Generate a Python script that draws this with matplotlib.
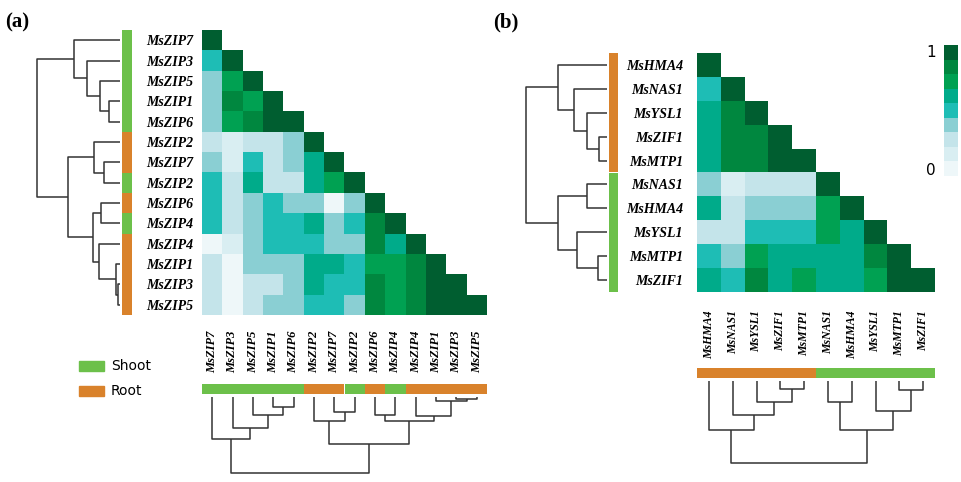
import numpy as np
import matplotlib.pyplot as plt
from matplotlib.colors import ListedColormap, BoundaryNorm

# ---- data -------------------------------------------------------------
zip_genes = ["MsZIP7", "MsZIP3", "MsZIP5", "MsZIP1", "MsZIP6", "MsZIP2", "MsZIP7",
             "MsZIP2", "MsZIP6", "MsZIP4", "MsZIP4", "MsZIP1", "MsZIP3", "MsZIP5"]
zip_tissue = ["Shoot", "Shoot", "Shoot", "Shoot", "Shoot", "Root", "Root",
              "Shoot", "Root", "Shoot", "Root", "Root", "Root", "Root"]
# lower triangle of the correlation matrix, row by row
zip_corr = [
    [.95],
    [.50, .95],
    [.39, .72, .95],
    [.39, .83, .72, .95],
    [.39, .72, .83, .95, .95],
    [.27, .16, .27, .27, .39, .95],
    [.39, .16, .50, .27, .39, .61, .95],
    [.50, .27, .61, .27, .27, .61, .72, .95],
    [.50, .27, .39, .50, .39, .39, .05, .39, .95],
    [.50, .27, .39, .50, .50, .61, .39, .50, .83, .95],
    [.05, .16, .39, .50, .50, .50, .39, .39, .83, .61, .95],
    [.27, .05, .39, .39, .39, .61, .61, .50, .72, .72, .83, .95],
    [.27, .05, .27, .27, .39, .61, .50, .50, .83, .72, .83, .95, .95],
    [.27, .05, .27, .39, .39, .50, .50, .39, .83, .72, .83, .95, .95, .95],
]
# hierarchical clustering merges: (cluster a, cluster b, height)
zip_merges = [
    (3, 4, 0.13), (2, 14, 0.24), (1, 15, 0.40), (0, 16, 0.55),
    (6, 7, 0.19), (5, 18, 0.31), (8, 9, 0.23), (12, 13, 0.02),
    (11, 21, 0.05), (10, 22, 0.25), (20, 23, 0.32), (19, 24, 0.62),
    (17, 25, 1.00),
]

met_genes = ["MsHMA4", "MsNAS1", "MsYSL1", "MsZIF1", "MsMTP1",
             "MsNAS1", "MsHMA4", "MsYSL1", "MsMTP1", "MsZIF1"]
met_tissue = ["Root", "Root", "Root", "Root", "Root",
              "Shoot", "Shoot", "Shoot", "Shoot", "Shoot"]
met_corr = [
    [.95],
    [.50, .95],
    [.61, .83, .95],
    [.61, .83, .83, .95],
    [.61, .83, .83, .95, .95],
    [.39, .16, .27, .27, .27, .95],
    [.61, .27, .39, .39, .39, .72, .95],
    [.27, .27, .50, .50, .50, .72, .61, .95],
    [.50, .39, .72, .61, .61, .61, .61, .83, .95],
    [.61, .50, .83, .61, .72, .61, .61, .72, .95, .95],
]
met_merges = [
    (3, 4, 0.10), (2, 10, 0.25), (1, 11, 0.41), (0, 12, 0.60),
    (5, 6, 0.25), (8, 9, 0.11), (7, 15, 0.37), (14, 16, 0.60),
    (13, 17, 1.00),
]

# ---- style ------------------------------------------------------------
W, H = 961, 482
tissue_colors = {"Shoot": "#6cc04a", "Root": "#d9822b"}
palette = ["#eef7f9", "#d9eef2", "#c4e4ea", "#8acfd3", "#1ebdb5",
           "#00ab8a", "#00a152", "#00873f", "#005e30"]
cmap = ListedColormap(palette)
norm = BoundaryNorm(np.linspace(0, 1, len(palette) + 1), cmap.N)
lab_font = dict(family="Liberation Serif", style="italic", weight="bold")
line_kw = dict(color="#333333", lw=1.1, solid_capstyle="butt")

fig = plt.figure(figsize=(W / 100, H / 100), dpi=100)


def px_axes(x0, y0, x1, y1):
    ax = fig.add_axes([x0 / W, 1 - y1 / H, (x1 - x0) / W, (y1 - y0) / H])
    ax.set_axis_off()
    return ax


def dendro_segments(merges, n):
    pos = {i: float(i) for i in range(n)}
    hgt = {i: 0.0 for i in range(n)}
    segs = []
    for k, (a, b, h) in enumerate(merges):
        segs.append(([pos[a], pos[a], pos[b], pos[b]], [hgt[a], h, h, hgt[b]]))
        pos[n + k] = (pos[a] + pos[b]) / 2
        hgt[n + k] = h
    return segs


def lower_matrix(rows):
    n = len(rows)
    m = np.full((n, n), np.nan)
    for i, r in enumerate(rows):
        m[i, :len(r)] = r
    return np.ma.masked_invalid(m)


def draw_panel(genes, tissue, corr, merges, hm, row_strip, row_den,
               col_strip, col_den, row_pad, col_pad, col_size):
    n = len(genes)
    colors = [tissue_colors[t] for t in tissue]

    ax = px_axes(*hm)
    ax.set_axis_on()
    ax.imshow(lower_matrix(corr), cmap=cmap, norm=norm, aspect="auto",
              interpolation="nearest")
    ax.set_xlim(-0.5, n - 0.5)
    ax.set_ylim(n - 0.5, -0.5)
    for s in ax.spines.values():
        s.set_visible(False)
    ax.set_xticks(range(n))
    ax.set_xticklabels(genes, rotation=90, fontsize=col_size, **lab_font)
    ax.set_yticks(range(n))
    ax.set_yticklabels(genes, fontsize=10, **lab_font)
    ax.tick_params(axis="x", length=0, pad=col_pad)
    ax.tick_params(axis="y", length=0, pad=row_pad)

    # tissue strips
    ax = px_axes(*row_strip)
    ax.barh(range(n), 1, height=1.0, color=colors, linewidth=0)
    ax.set_ylim(n - 0.5, -0.5)
    ax.set_xlim(0, 1)
    ax = px_axes(*col_strip)
    ax.bar(range(n), 1, width=1.0, color=colors, linewidth=0)
    ax.set_xlim(-0.5, n - 0.5)
    ax.set_ylim(0, 1)

    segs = dendro_segments(merges, n)
    ax = px_axes(*row_den)
    for p, h in segs:
        ax.plot(h, p, **line_kw)
    ax.set_xlim(1.02, 0)
    ax.set_ylim(n - 0.5, -0.5)
    ax = px_axes(*col_den)
    for p, h in segs:
        ax.plot(p, h, **line_kw)
    ax.set_xlim(-0.5, n - 0.5)
    ax.set_ylim(1.02, 0)


# (a) ZIP family
draw_panel(zip_genes, zip_tissue, zip_corr, zip_merges,
           hm=(202, 30, 487, 315), row_strip=(122, 30, 132, 315),
           row_den=(35, 30, 120, 315), col_strip=(202, 384, 487, 394),
           col_den=(202, 397, 487, 475), row_pad=6.5, col_pad=11.5, col_size=9)

# (b) metal transport genes
draw_panel(met_genes, met_tissue, met_corr, met_merges,
           hm=(697, 53, 935, 292), row_strip=(609, 53, 618, 292),
           row_den=(524, 53, 607, 292), col_strip=(697, 368, 935, 378),
           col_den=(697, 381, 935, 465), row_pad=10, col_pad=13, col_size=8.5)

fig.text(5 / W, 1 - 22 / H, "(a)", fontsize=15, weight="bold",
         family="Liberation Serif", va="center")
fig.text(493 / W, 1 - 22 / H, "(b)", fontsize=15, weight="bold",
         family="Liberation Serif", va="center")

# colour key
cax = px_axes(944, 45, 958, 176)
cax.imshow(np.arange(len(palette))[::-1].reshape(-1, 1), cmap=cmap,
           aspect="auto", interpolation="nearest")
fig.text(936 / W, 1 - 52 / H, "1", fontsize=11, ha="right", va="center")
fig.text(936 / W, 1 - 170 / H, "0", fontsize=11, ha="right", va="center")

# tissue legend
lax = px_axes(0, 0, W, H)
lax.set_xlim(0, W)
lax.set_ylim(H, 0)
for y, name in [(366, "Shoot"), (391, "Root")]:
    lax.add_patch(plt.Rectangle((79, y - 5), 25, 10, color=tissue_colors[name]))
    lax.text(111, y, name, fontsize=10, va="center")

fig.savefig("out.png", dpi=100)
